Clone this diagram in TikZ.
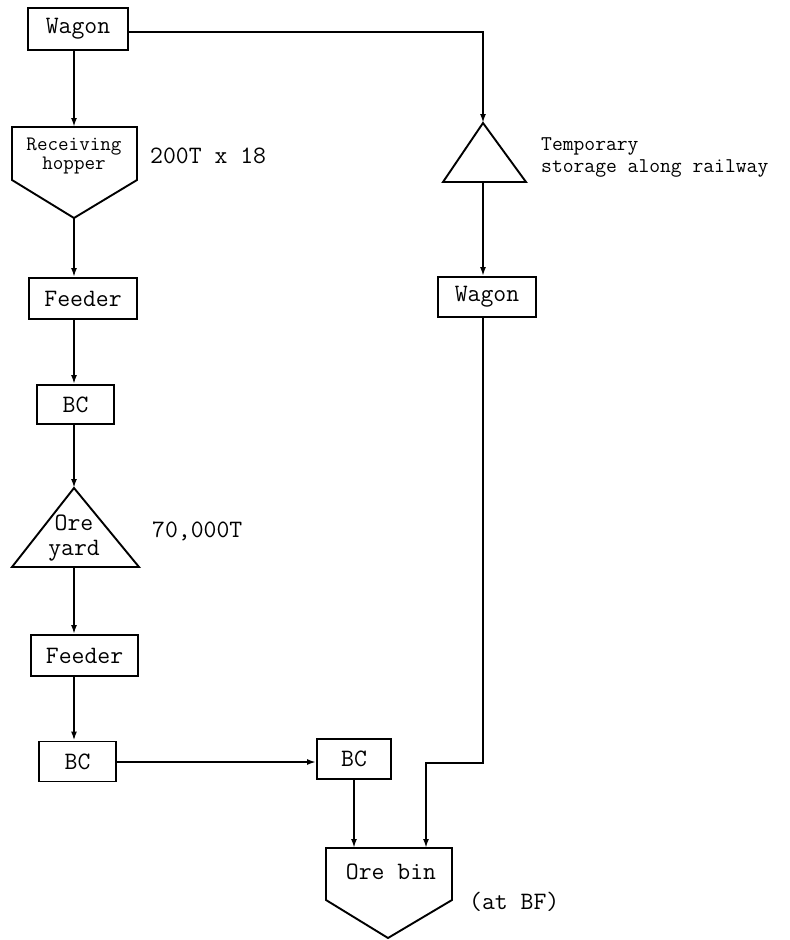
\documentclass[tikz,border=0pt]{standalone}
\usepackage{fontspec}
\usetikzlibrary{arrows.meta,calc}
\begin{document}
\begin{tikzpicture}[x=1pt,y=-1pt,
  every node/.style={font=\ttfamily\fontsize{25}{27}\selectfont},
  box/.style={draw,line width=1.9pt,inner sep=0pt,minimum width=#1},
  box/.default=100pt,
  lbl/.style={anchor=west,inner sep=0pt},
  arr/.style={line width=1.9pt,-{Latex[length=9pt,width=6pt]}},
  outline/.style={draw,line width=1.9pt,line join=miter}]
\useasboundingbox (0,0) rectangle (790,940);

% column guide coordinates
\coordinate (L) at (74,0);
\coordinate (R) at (483,0);

% boxes
\node[box=100pt,minimum height=42pt] (wagon1) at (78,29) {Wagon};
\node[box=108pt,minimum height=41pt] (feeder1) at (83,298.5) {Feeder};
\node[box=77pt,minimum height=39pt] (bc1) at (75.5,404.5) {BC};
\node[box=107pt,minimum height=41pt] (feeder2) at (84.5,655.5) {Feeder};
\node[box=77pt,minimum height=40pt] (bc2) at (77.5,761.5) {BC};
\node[box=74pt,minimum height=40pt] (bc3) at (354,759) {BC};
\node[box=98pt,minimum height=40pt] (wagon2) at (487,297) {Wagon};

% receiving hopper
\draw[outline] (12,127) -- (137,127) -- (137,180) -- (74,218) -- (12,180) -- cycle;
\node[align=center,inner sep=0pt,font=\ttfamily\fontsize{20.5}{19}\selectfont] (hopper) at (74,156) {Receiving\\hopper};
\coordinate (hopTop) at (74,127);
\coordinate (hopTip) at (74,218);

% ore yard
\draw[outline] (74,488) -- (139,567) -- (12,567) -- cycle;
\node[align=center,inner sep=0pt,font=\ttfamily\fontsize{25}{25}\selectfont] (yard) at (74,538) {Ore\\yard};
\coordinate (yardTop) at (74,488);
\coordinate (yardBot) at (74,567);

% temporary storage
\draw[outline] (483,123) -- (526,182) -- (443,182) -- cycle;
\coordinate (tsTop) at (483,123);
\coordinate (tsBot) at (483,182);

% ore bin
\draw[outline] (326,848) -- (452,848) -- (452,900) -- (388,938) -- (326,900) -- cycle;
\node[inner sep=0pt] (orebin) at (391,872) {Ore bin};
\coordinate (binL) at (354,848);
\coordinate (binR) at (426,848);

% labels
\node[lbl] (cap1) at (150,156) {200T x 18};
\node[lbl] (cap2) at (152,531) {70,000T};
\node[lbl,align=left,font=\ttfamily\fontsize{21}{22}\selectfont] (cap3) at (541,157) {Temporary\\storage along railway};
\node[lbl] (cap4) at (469,902) {(at BF)};

% connectors
\draw[arr] (wagon1.south -| L) -- (hopTop);
\draw[arr] (wagon1.east |- 0,32) -- (483,32) -- (tsTop);
\draw[arr] (hopTip) -- (feeder1.north -| L);
\draw[arr] (feeder1.south -| L) -- (bc1.north -| L);
\draw[arr] (bc1.south -| L) -- (yardTop);
\draw[arr] (yardBot) -- (feeder2.north -| L);
\draw[arr] (feeder2.south -| L) -- (bc2.north -| L);
\draw[arr] (bc2.east |- 0,762) -- (bc3.west |- 0,762);
\draw[arr] (bc3.south -| binL) -- (binL);
\draw[arr] (tsBot) -- (wagon2.north -| R);
\draw[arr] (wagon2.south -| R) -- (483,763) -- (426,763) -- (binR);
\end{tikzpicture}
\end{document}
